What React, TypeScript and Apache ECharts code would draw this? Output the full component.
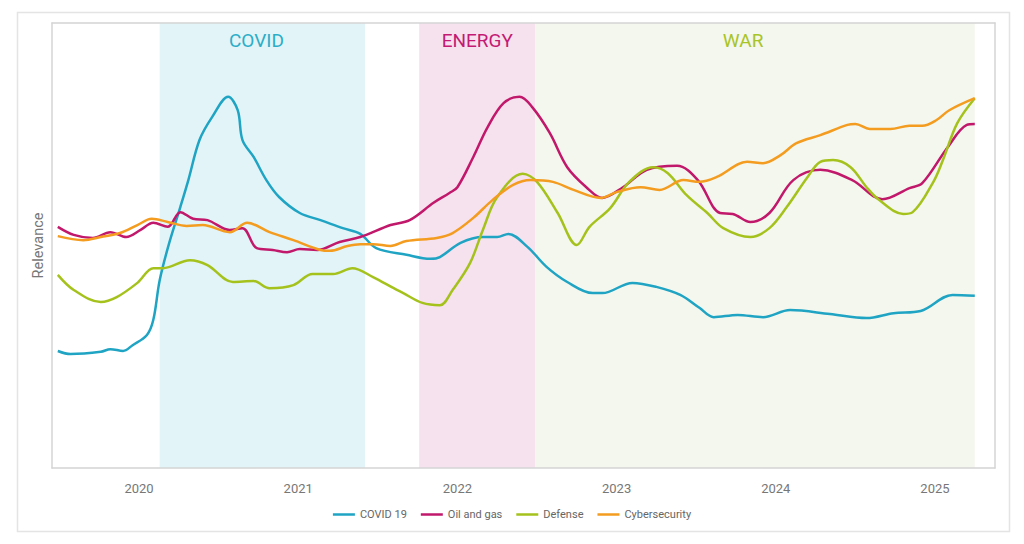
import React, { useEffect, useRef } from "react";
import * as echarts from "echarts";

// ---- Data (decimal years, relevance 0–100) ----
const yearTicks = [2020, 2021, 2022, 2023, 2024, 2025];

const periodNames = ["COVID", "ENERGY", "WAR"];
const periodStart = [2020.13, 2021.76, 2022.49];
const periodEnd = [2021.42, 2022.49, 2025.25];

const covidX = [2019.49, 2019.57, 2019.76, 2019.82, 2019.9, 2019.96, 2020.05, 2020.09, 2020.13, 2020.19, 2020.26, 2020.31, 2020.38, 2020.46, 2020.56, 2020.62, 2020.65, 2020.72, 2020.8, 2020.88, 2021.01, 2021.14, 2021.28, 2021.39, 2021.49, 2021.68, 2021.83, 2021.89, 2022.02, 2022.16, 2022.25, 2022.32, 2022.44, 2022.56, 2022.69, 2022.85, 2022.91, 2023.1, 2023.25, 2023.4, 2023.52, 2023.61, 2023.76, 2023.92, 2024.09, 2024.34, 2024.57, 2024.74, 2024.91, 2025.11, 2025.25];
const covidY = [26.3, 25.6, 26.1, 26.7, 26.3, 27.6, 29.9, 33.3, 42.2, 50.6, 58.7, 64.7, 73.7, 78.9, 83.4, 80.4, 73.7, 69.9, 64.7, 60.9, 57.3, 55.7, 53.9, 52.6, 49.4, 47.9, 47.0, 47.4, 50.6, 51.9, 51.9, 52.6, 49.7, 45.2, 41.8, 39.3, 39.3, 41.6, 40.7, 38.9, 36.0, 33.9, 34.4, 33.9, 35.5, 34.6, 33.7, 34.8, 35.3, 38.9, 38.7];

const oilX = [2019.49, 2019.59, 2019.71, 2019.82, 2019.92, 2020.01, 2020.09, 2020.18, 2020.26, 2020.34, 2020.43, 2020.57, 2020.65, 2020.74, 2020.84, 2020.93, 2021.01, 2021.12, 2021.26, 2021.39, 2021.58, 2021.7, 2021.85, 2021.95, 2022.0, 2022.1, 2022.19, 2022.29, 2022.39, 2022.47, 2022.58, 2022.69, 2022.81, 2022.91, 2023.04, 2023.19, 2023.38, 2023.51, 2023.65, 2023.73, 2023.84, 2023.96, 2024.11, 2024.28, 2024.48, 2024.67, 2024.84, 2024.92, 2025.08, 2025.2, 2025.25];
const oilY = [54.2, 52.4, 51.7, 53.0, 51.9, 53.5, 55.1, 54.2, 57.5, 56.0, 55.7, 53.5, 53.9, 49.4, 49.0, 48.5, 49.2, 49.0, 50.8, 51.9, 54.6, 55.7, 59.6, 61.8, 63.1, 69.9, 76.6, 82.0, 83.4, 81.1, 75.3, 67.6, 63.1, 60.7, 63.1, 67.0, 67.9, 64.7, 57.3, 57.1, 55.3, 57.3, 64.7, 67.0, 64.7, 60.4, 62.9, 64.0, 72.1, 77.1, 77.3];

const defenseX = [2019.49, 2019.59, 2019.76, 2019.86, 2019.99, 2020.09, 2020.15, 2020.32, 2020.43, 2020.59, 2020.72, 2020.82, 2020.97, 2021.09, 2021.22, 2021.34, 2021.47, 2021.6, 2021.66, 2021.78, 2021.89, 2021.97, 2022.08, 2022.16, 2022.25, 2022.41, 2022.5, 2022.63, 2022.75, 2022.83, 2022.96, 2023.08, 2023.23, 2023.32, 2023.44, 2023.57, 2023.67, 2023.84, 2023.96, 2024.07, 2024.2, 2024.28, 2024.36, 2024.47, 2024.57, 2024.65, 2024.8, 2024.86, 2024.99, 2025.05, 2025.14, 2025.25];
const defenseY = [43.4, 40.0, 37.3, 38.4, 41.6, 44.9, 44.9, 46.7, 45.6, 41.8, 42.0, 40.4, 41.1, 43.6, 43.6, 44.9, 42.9, 40.4, 39.3, 37.1, 36.6, 40.0, 46.1, 53.5, 60.9, 66.1, 64.3, 57.3, 50.1, 54.2, 58.4, 64.3, 67.6, 66.3, 61.3, 57.3, 53.9, 51.9, 53.9, 58.7, 65.4, 68.8, 69.2, 67.6, 63.1, 60.2, 57.1, 57.5, 64.3, 69.2, 77.5, 83.1];

const cyberX = [2019.49, 2019.65, 2019.76, 2019.88, 2019.99, 2020.08, 2020.18, 2020.3, 2020.4, 2020.57, 2020.68, 2020.82, 2020.97, 2021.14, 2021.2, 2021.31, 2021.39, 2021.47, 2021.58, 2021.68, 2021.87, 2021.97, 2022.1, 2022.22, 2022.35, 2022.46, 2022.6, 2022.73, 2022.9, 2023.0, 2023.15, 2023.27, 2023.42, 2023.52, 2023.63, 2023.82, 2023.92, 2024.03, 2024.13, 2024.28, 2024.45, 2024.5, 2024.59, 2024.72, 2024.84, 2024.92, 2025.01, 2025.09, 2025.25];
const cyberY = [52.1, 51.2, 51.9, 52.8, 54.6, 56.0, 55.3, 54.4, 54.6, 53.0, 55.1, 53.0, 51.2, 49.0, 48.8, 49.9, 50.3, 50.3, 49.9, 51.0, 51.7, 52.8, 56.2, 60.2, 63.6, 64.7, 64.3, 62.5, 60.7, 62.0, 63.1, 62.5, 64.7, 64.3, 65.4, 68.8, 68.5, 70.3, 73.0, 74.8, 77.1, 77.3, 76.2, 76.2, 76.9, 76.9, 78.2, 80.4, 83.1];

const seriesNames = ["COVID 19", "Oil and gas", "Defense", "Cybersecurity"];
const seriesColors = ["#1fa4c4", "#c2186b", "#a5c21c", "#f39c1f"];
const periodFill = ["#e2f4f8", "#f6e2ee", "#f4f7ee"];
const periodText = ["#2badc8", "#c41a73", "#a8c425"];
const periodLabelShift = [-6, 0, -12];

const zip = (xs: number[], ys: number[]) => xs.map((x, i) => [x, ys[i]]);

const FONT = "Roboto, 'Noto Sans', sans-serif";

export default function App() {
  const ref = useRef<HTMLDivElement>(null);
  useEffect(() => {
    if (!ref.current) return;
    const chart = echarts.init(ref.current, null, { renderer: "svg" });
    const allData = [zip(covidX, covidY), zip(oilX, oilY), zip(defenseX, defenseY), zip(cyberX, cyberY)];
    const borderLine = { show: true, onZero: false, lineStyle: { color: "#d4d4d4", width: 1.5 } };
    chart.setOption({
      animation: false,
      backgroundColor: "#ffffff",
      textStyle: { fontFamily: FONT },
      graphic: [
        {
          type: "rect",
          shape: { x: 17.5, y: 12.5, width: 992, height: 519 },
          style: { fill: "none", stroke: "#e4e4e4", lineWidth: 1.5 },
          silent: true,
        },
      ],
      grid: { left: 52, top: 23, right: 29, bottom: 76 },
      legend: {
        data: seriesNames,
        top: 504,
        left: "center",
        icon: "rect",
        itemWidth: 22,
        itemHeight: 2.5,
        itemGap: 14,
        textStyle: { fontSize: 11, color: "#666", fontFamily: FONT },
      },
      xAxis: [
        {
          type: "value",
          min: 2019.4535,
          max: 2025.377,
          z: 10,
          axisLine: borderLine,
          axisTick: { show: false },
          splitLine: { show: false },
          axisLabel: {
            customValues: yearTicks,
            formatter: (v: number) => String(Math.round(v)),
            color: "#777",
            fontSize: 13,
            margin: 14,
            fontFamily: FONT,
          },
        },
        {
          type: "value",
          position: "top",
          z: 10,
          axisLine: borderLine,
          axisTick: { show: false },
          axisLabel: { show: false },
          splitLine: { show: false },
        },
      ],
      yAxis: [
        {
          type: "value",
          min: 0,
          max: 100,
          z: 10,
          name: "Relevance",
          nameLocation: "middle",
          nameGap: 6,
          nameTextStyle: { color: "#777", fontSize: 14.5, fontFamily: FONT },
          axisLine: borderLine,
          axisTick: { show: false },
          axisLabel: { show: false },
          splitLine: { show: false },
        },
        {
          type: "value",
          position: "right",
          z: 10,
          axisLine: borderLine,
          axisTick: { show: false },
          axisLabel: { show: false },
          splitLine: { show: false },
        },
      ],
      series: [
        {
          type: "line",
          name: "periods",
          data: [],
          z: 1,
          silent: true,
          markArea: {
            silent: true,
            data: periodNames.map((n, i) => [
              {
                name: n,
                xAxis: periodStart[i],
                itemStyle: { color: periodFill[i] },
                label: {
                  show: true,
                  position: "insideTop",
                  distance: 8,
                  offset: [periodLabelShift[i], 0],
                  color: periodText[i],
                  fontSize: 19,
                  fontWeight: 400,
                  fontFamily: FONT,
                },
              },
              { xAxis: periodEnd[i] },
            ]),
          },
        },
        ...seriesNames.map((n, i) => ({
          type: "line",
          name: n,
          data: allData[i],
          z: 3,
          smooth: 0.35,
          showSymbol: false,
          symbol: "none",
          color: seriesColors[i],
          lineStyle: { color: seriesColors[i], width: 2.5 },
        })),
      ],
    });
    return () => chart.dispose();
  }, []);
  return <div ref={ref} style={{ position: "fixed", left: 0, top: 0, width: 1024, height: 544 }} />;
}
